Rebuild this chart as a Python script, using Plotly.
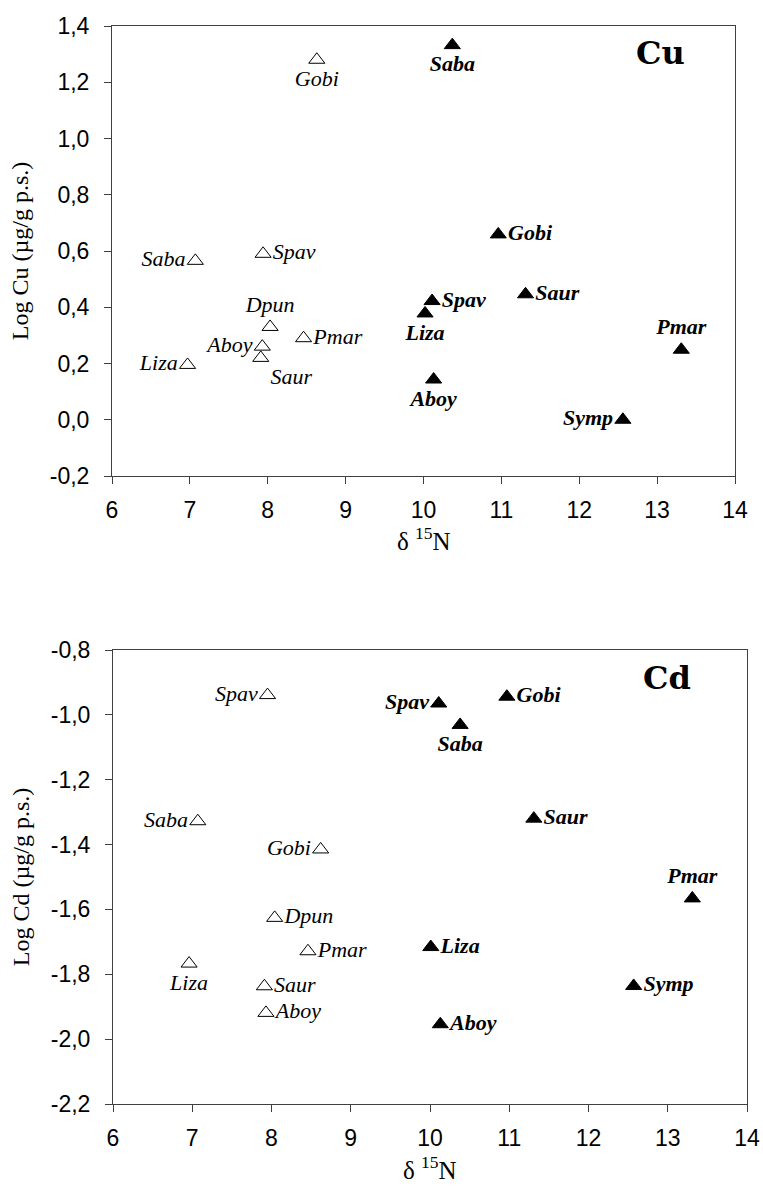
import plotly.graph_objects as go

# ---------------- data ----------------
species_open_cu = ["Gobi", "Saba", "Spav", "Dpun", "Aboy", "Saur", "Pmar", "Liza"]
n15_open_cu = [8.63, 7.07, 7.94, 8.03, 7.93, 7.91, 8.46, 6.97]
cu_open = [1.28, 0.565, 0.59, 0.33, 0.26, 0.22, 0.29, 0.195]
pos_open_cu = ["bottom center", "middle left", "middle right", "top center",
               "middle left", "bottom right", "middle right", "middle left"]

species_fill_cu = ["Saba", "Gobi", "Spav", "Liza", "Saur", "Pmar", "Aboy", "Symp"]
n15_fill_cu = [10.37, 10.96, 10.11, 10.02, 11.31, 13.31, 10.13, 12.56]
cu_fill = [1.332, 0.659, 0.422, 0.378, 0.446, 0.249, 0.143, 0.0]
pos_fill_cu = ["bottom center", "middle right", "middle right", "bottom center",
               "middle right", "top center", "bottom center", "middle left"]

species_open_cd = ["Spav", "Saba", "Gobi", "Dpun", "Pmar", "Liza", "Saur", "Aboy"]
n15_open_cd = [7.95, 7.07, 8.62, 8.04, 8.46, 6.96, 7.91, 7.93]
cd_open = [-0.939, -1.328, -1.415, -1.626, -1.729, -1.767, -1.837, -1.919]
pos_open_cd = ["middle left", "middle left", "middle left", "middle right",
               "middle right", "bottom center", "middle right", "middle right"]

species_fill_cd = ["Spav", "Gobi", "Saba", "Saur", "Pmar", "Liza", "Symp", "Aboy"]
n15_fill_cd = [10.11, 10.97, 10.38, 11.31, 13.31, 10.01, 12.57, 10.13]
cd_fill = [-0.965, -0.944, -1.031, -1.32, -1.566, -1.716, -1.836, -1.954]
pos_fill_cd = ["middle left", "middle right", "bottom center", "middle right",
               "top center", "middle right", "middle right", "middle right"]

x_ticks = [6, 7, 8, 9, 10, 11, 12, 13, 14]
cu_ticks = [-0.2, 0.0, 0.2, 0.4, 0.6, 0.8, 1.0, 1.2, 1.4]
cu_tick_labels = ["-0,2", "0,0", "0,2", "0,4", "0,6", "0,8", "1,0", "1,2", "1,4"]
cd_ticks = [-2.2, -2.0, -1.8, -1.6, -1.4, -1.2, -1.0, -0.8]
cd_tick_labels = ["-2,2", "-2,0", "-1,8", "-1,6", "-1,4", "-1,2", "-1,0", "-0,8"]

x_title = "δ <sup>15</sup>N"

# ---------------- figure ----------------
W, H = 763, 1191
fig = go.Figure()

serif = "Liberation Serif, Times New Roman, serif"
label_font_open = dict(family=serif, size=22, color="black", style="italic")
label_font_fill = dict(family=serif, size=22, color="black", style="italic", weight="bold")

open_marker = dict(symbol="triangle-up", size=14, color="white",
                   line=dict(color="black", width=1))
fill_marker = dict(symbol="triangle-up", size=14, color="black",
                   line=dict(color="black", width=1))

fig.add_trace(go.Scatter(x=n15_open_cu, y=cu_open, text=species_open_cu,
                         mode="markers+text", textposition=pos_open_cu,
                         marker=open_marker, textfont=label_font_open,
                         xaxis="x", yaxis="y", showlegend=False))
fig.add_trace(go.Scatter(x=n15_fill_cu, y=cu_fill, text=species_fill_cu,
                         mode="markers+text", textposition=pos_fill_cu,
                         marker=fill_marker, textfont=label_font_fill,
                         xaxis="x", yaxis="y", showlegend=False))
fig.add_trace(go.Scatter(x=n15_open_cd, y=cd_open, text=species_open_cd,
                         mode="markers+text", textposition=pos_open_cd,
                         marker=open_marker, textfont=label_font_open,
                         xaxis="x2", yaxis="y2", showlegend=False))
fig.add_trace(go.Scatter(x=n15_fill_cd, y=cd_fill, text=species_fill_cd,
                         mode="markers+text", textposition=pos_fill_cd,
                         marker=fill_marker, textfont=label_font_fill,
                         xaxis="x2", yaxis="y2", showlegend=False))

tick_font = dict(family="Liberation Sans, Arial, sans-serif", size=23, color="black")
ytitle_font = dict(family=serif, size=24, color="black")
xtitle_font = dict(family=serif, size=25, color="black")

common_axis = dict(showline=True, linecolor="#404040", linewidth=1, mirror=True,
                   showgrid=False, zeroline=False, ticks="outside", ticklen=7,
                   tickcolor="#404040", tickfont=tick_font, automargin=False)

fig.update_layout(
    width=W, height=H,
    margin=dict(l=0, r=0, t=0, b=0),
    paper_bgcolor="white", plot_bgcolor="white",
    xaxis=dict(domain=[112 / W, 735 / W], range=[6, 14], tickvals=x_ticks,
               anchor="y", ticklabelstandoff=6, **common_axis),
    yaxis=dict(domain=[1 - 476 / H, 1 - 26 / H], range=[-0.2, 1.4], tickvals=cu_ticks,
               ticktext=cu_tick_labels, anchor="x", ticklabelstandoff=10,
               title=dict(text="Log Cu (µg/g p.s.)", font=ytitle_font, standoff=14),
               **common_axis),
    xaxis2=dict(domain=[113 / W, 747 / W], range=[6, 14], tickvals=x_ticks,
                anchor="y2", ticklabelstandoff=6, **common_axis),
    yaxis2=dict(domain=[1 - 1104 / H, 1 - 650 / H], range=[-2.2, -0.8], tickvals=cd_ticks,
                ticktext=cd_tick_labels, anchor="x2", ticklabelstandoff=10,
                title=dict(text="Log Cd (µg/g p.s.)", font=ytitle_font, standoff=14),
                **common_axis),
)

# x-axis titles
fig.add_annotation(text=x_title, xref="x domain", yref="paper", x=0.5, y=1 - 539 / H,
                   showarrow=False, font=xtitle_font, xanchor="center", yanchor="middle")
fig.add_annotation(text=x_title, xref="x2 domain", yref="paper", x=0.5, y=1 - 1168 / H,
                   showarrow=False, font=xtitle_font, xanchor="center", yanchor="middle")

metal_font = dict(family="DejaVu Serif, serif", size=32, color="black", weight="bold")
fig.add_annotation(text="Cu", xref="x domain", yref="y domain", x=0.88, y=0.94,
                   showarrow=False, font=metal_font, xanchor="center", yanchor="middle")
fig.add_annotation(text="Cd", xref="x2 domain", yref="y2 domain", x=0.874, y=0.938,
                   showarrow=False, font=metal_font, xanchor="center", yanchor="middle")

fig.write_html("out.html")
